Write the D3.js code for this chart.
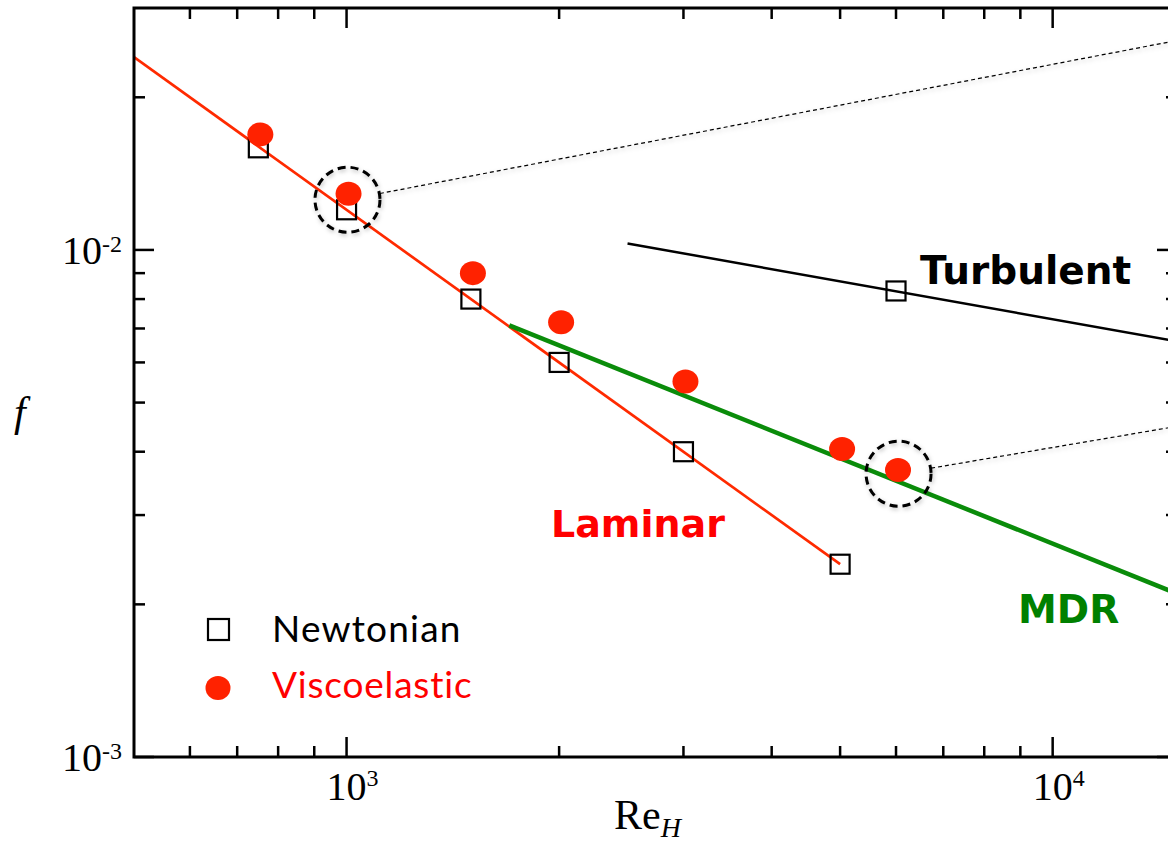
<!DOCTYPE html>
<html>
<head>
<meta charset="utf-8">
<script src="https://cdn.jsdelivr.net/npm/d3@7"></script>
<style>
  body { margin: 0; background: #fff; }
  svg { display: block; }
</style>
</head>
<body>
<div id="chart"></div>
<script>
// data
const RE_NEWT = [750, 1000, 1500, 2000, 3000, 5000, 6000];
const F_NEWT = [0.0159, 0.0120, 0.0080, 0.0060, 0.0040, 0.0024, 0.0083];
const RE_VISCO = [750, 1000, 1500, 2000, 3000, 5000, 6000];
const F_VISCO = [0.0169, 0.0129, 0.0090, 0.0072, 0.0055, 0.00405, 0.00368];

const RE_LAM = [500, 5000], F_LAM = [0.024, 0.0024];
const RE_MDR = [1700, 15000], F_MDR = [0.0071, 0.0021];
const RE_TURB = [2500, 15000], F_TURB = [0.0103, 0.0066];

// highlighted points + leader line targets (toward insets off to the right)
const HL_RE = [1003, 6050], HL_F = [0.01256, 0.00362];
const LEADER_RE = [14600, 14600], LEADER_F = [0.0257, 0.00446];

const X_MAJOR = [1000, 10000];
const X_MINOR = [600, 700, 800, 900, 2000, 3000, 4000, 5000, 6000, 7000, 8000, 9000];
const Y_MAJOR = [0.001, 0.01];
const Y_MINOR = [0.002, 0.003, 0.004, 0.005, 0.006, 0.007, 0.008, 0.009, 0.02];
const X_LABELS = ['3', '4'], Y_LABELS = ['-3', '-2'];

const W = 1168, H = 845;
const LEFT = 134, TOP = 8, BOTTOM = 757, RIGHT = 1177;
const MAJ = 20, MIN = 11;

var x = d3.scaleLog().domain([500, 15000]).range([LEFT, RIGHT]);
var y = d3.scaleLog().domain([0.001, 0.03]).range([BOTTOM, TOP]);

const svg = d3.select('#chart').append('svg')
  .attr('width', W).attr('height', H);

const defs = svg.append('defs');
const shadow = defs.append('filter').attr('id', 'shadow')
  .attr('x', '-20%').attr('y', '-20%').attr('width', '140%').attr('height', '140%');
shadow.append('feDropShadow').attr('dx', 1).attr('dy', 2)
  .attr('stdDeviation', 2).attr('flood-color', '#000').attr('flood-opacity', 0.25);

const clip = defs.append('clipPath').attr('id', 'plotclip');
clip.append('rect').attr('x', LEFT).attr('y', TOP)
  .attr('width', RIGHT - LEFT).attr('height', BOTTOM - TOP);

const plot = svg.append('g').attr('clip-path', 'url(#plotclip)');

var line = d3.line().x(d => x(d[0])).y(d => y(d[1]));

// leader lines
const hlPts = HL_RE.map((r, i) => [x(r), y(HL_F[i])]);
const targets = LEADER_RE.map((r, i) => [x(r), y(LEADER_F[i])]);
hlPts.forEach((p, i) => {
  let t = targets[i];
  let a = Math.atan2(t[1] - p[1], t[0] - p[0]);
  plot.append('line')
    .attr('x1', p[0] + 33 * Math.cos(a)).attr('y1', p[1] + 33 * Math.sin(a))
    .attr('x2', t[0]).attr('y2', t[1])
    .attr('stroke', '#000').attr('stroke-width', 1.2)
    .attr('stroke-dasharray', '4,3')
    .attr('filter', 'url(#shadow)');
});

// fit lines
plot.append('path')
  .datum(RE_TURB.map((r, i) => [r, F_TURB[i]]))
  .attr('d', line).attr('fill', 'none')
  .attr('stroke', '#000').attr('stroke-width', 2.5);

plot.append('path')
  .datum(RE_LAM.map((r, i) => [r, F_LAM[i]]))
  .attr('d', line).attr('fill', 'none')
  .attr('stroke', '#ff2a00').attr('stroke-width', 2.7);

plot.append('path')
  .datum(RE_MDR.map((r, i) => [r, F_MDR[i]]))
  .attr('d', line).attr('fill', 'none')
  .attr('stroke', '#0a8c0a').attr('stroke-width', 4.5);

// markers
plot.selectAll('.newt')
  .data(RE_NEWT.map((r, i) => [r, F_NEWT[i]]))
  .enter().append('rect').classed('newt', true)
  .attr('x', d => x(d[0]) - 9.5).attr('y', d => y(d[1]) - 9.5)
  .attr('width', 19).attr('height', 19)
  .attr('fill', 'none').attr('stroke', '#000').attr('stroke-width', 2.2);

plot.selectAll('.visco')
  .data(RE_VISCO.map((r, i) => [r, F_VISCO[i]]))
  .enter().append('ellipse').classed('visco', true)
  .attr('cx', d => x(d[0]) + 2).attr('cy', d => y(d[1]))
  .attr('rx', 13).attr('ry', 12)
  .attr('fill', '#ff2200');

// dashed highlight circles
plot.selectAll('.hl')
  .data(hlPts)
  .enter().append('circle').classed('hl', true)
  .attr('cx', d => d[0]).attr('cy', d => d[1]).attr('r', 32.5)
  .attr('fill', 'none').attr('stroke', '#000').attr('stroke-width', 3)
  .attr('stroke-dasharray', '8,5')
  .attr('filter', 'url(#shadow)');

// frame + ticks on all four sides
const axes = svg.append('g').attr('stroke', '#000');
axes.append('rect').attr('x', LEFT).attr('y', TOP)
  .attr('width', RIGHT - LEFT).attr('height', BOTTOM - TOP)
  .attr('fill', 'none').attr('stroke-width', 3);

function xTicks(vals, len) {
  axes.selectAll(null).data(vals).enter().append('line')
    .attr('x1', d => x(d)).attr('x2', d => x(d))
    .attr('y1', BOTTOM).attr('y2', BOTTOM - len).attr('stroke-width', 2.5);
  axes.selectAll(null).data(vals).enter().append('line')
    .attr('x1', d => x(d)).attr('x2', d => x(d))
    .attr('y1', TOP).attr('y2', TOP + len).attr('stroke-width', 2.5);
}
function yTicks(vals, len) {
  axes.selectAll(null).data(vals).enter().append('line')
    .attr('y1', d => y(d)).attr('y2', d => y(d))
    .attr('x1', LEFT).attr('x2', LEFT + len).attr('stroke-width', 2.5);
  axes.selectAll(null).data(vals).enter().append('line')
    .attr('y1', d => y(d)).attr('y2', d => y(d))
    .attr('x1', RIGHT).attr('x2', RIGHT - len).attr('stroke-width', 2.5);
}
xTicks(X_MAJOR, MAJ); xTicks(X_MINOR, MIN);
yTicks(Y_MAJOR, MAJ); yTicks(Y_MINOR, MIN);

// tick labels
const serif = '"Liberation Serif", "Times New Roman", serif';
X_MAJOR.forEach((v, i) => {
  let t = svg.append('text')
    .attr('x', x(v) + 6).attr('y', 800)
    .attr('text-anchor', 'middle')
    .attr('font-family', serif).attr('font-size', 40).text('10');
  t.append('tspan').attr('dy', -14).attr('font-size', 24).text(X_LABELS[i]);
});
Y_MAJOR.forEach((v, i) => {
  let t = svg.append('text')
    .attr('x', 122).attr('y', y(v) + 14)
    .attr('text-anchor', 'end')
    .attr('font-family', serif).attr('font-size', 40).text('10');
  t.append('tspan').attr('dy', -12).attr('font-size', 24).text(Y_LABELS[i]);
});

// axis titles
let xt = svg.append('text')
  .attr('x', 614).attr('y', 829)
  .attr('font-family', serif).attr('font-size', 42).text('Re');
xt.append('tspan').attr('dy', 8).attr('font-size', 28)
  .attr('font-style', 'italic').text('H');

svg.append('text')
  .attr('x', 14).attr('y', 426)
  .attr('font-family', serif).attr('font-size', 42)
  .attr('font-style', 'italic').text('f');

// curve labels
const heavy = '"DejaVu Sans", sans-serif';
svg.append('text').attr('x', 920).attr('y', 284)
  .attr('font-family', heavy).attr('font-weight', 'bold').attr('font-size', 39)
  .attr('fill', '#000').text('Turbulent');
svg.append('text').attr('x', 551).attr('y', 537)
  .attr('font-family', heavy).attr('font-weight', 'bold').attr('font-size', 38)
  .attr('fill', '#ff0000').text('Laminar');
svg.append('text').attr('x', 1018).attr('y', 623)
  .attr('font-family', heavy).attr('font-weight', 'bold').attr('font-size', 39)
  .attr('fill', '#008000').text('MDR');

// legend
const sans = 'Lato, "Open Sans", sans-serif';
const leg = svg.append('g');
leg.append('rect').attr('x', 208).attr('y', 619).attr('width', 21).attr('height', 21)
  .attr('fill', 'none').attr('stroke', '#000').attr('stroke-width', 2.2);
leg.append('text').attr('x', 272).attr('y', 642)
  .attr('font-family', sans).attr('font-size', 37).attr('letter-spacing', 1.2)
  .attr('fill', '#000').text('Newtonian');
leg.append('ellipse').attr('cx', 218).attr('cy', 688).attr('rx', 12.5).attr('ry', 12)
  .attr('fill', '#ff2200');
leg.append('text').attr('x', 272).attr('y', 698)
  .attr('font-family', sans).attr('font-size', 37).attr('letter-spacing', 0.8)
  .attr('fill', '#ff0000').text('Viscoelastic');
</script>
</body>
</html>
